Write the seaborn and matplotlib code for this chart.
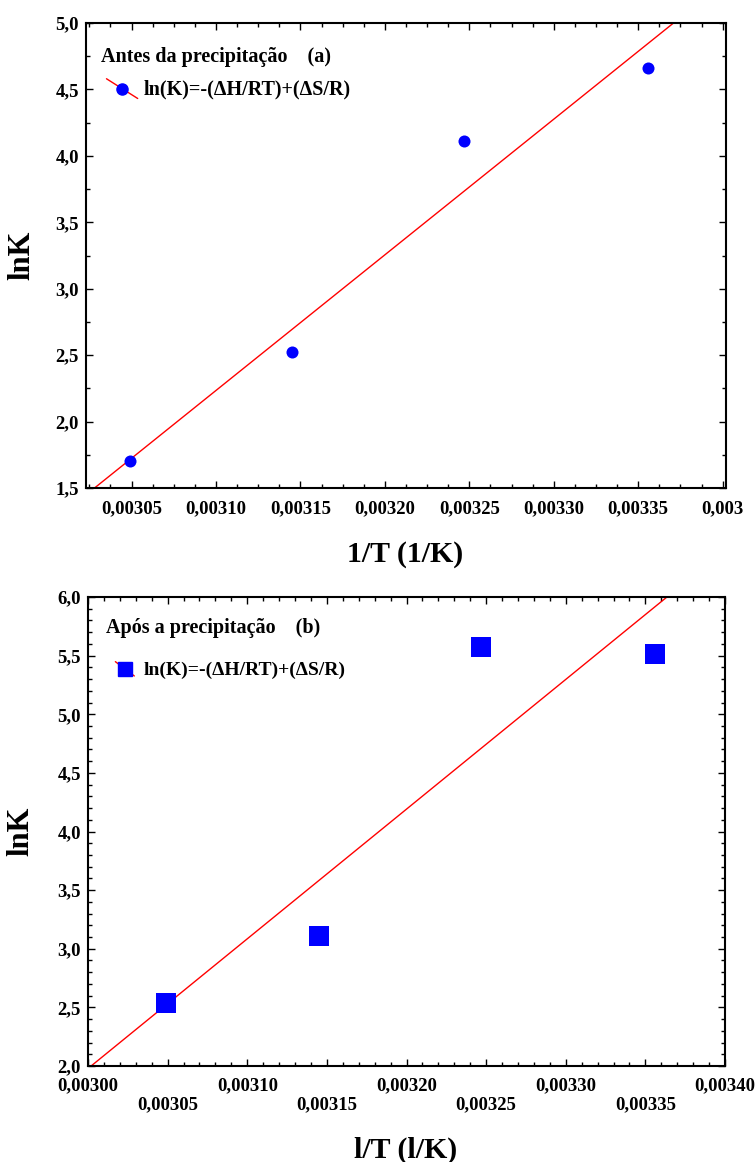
import numpy as np
import pandas as pd
import seaborn as sns
import matplotlib
matplotlib.use("Agg")
import matplotlib.pyplot as plt
from matplotlib.lines import Line2D
from matplotlib.legend_handler import HandlerBase
from matplotlib.ticker import FixedLocator, FixedFormatter, MultipleLocator

# ---- data -------------------------------------------------------------
inv_T = [0.003049, 0.003145, 0.003247, 0.003356]        # 1/T (1/K)
lnK_before = [1.70, 2.52, 4.11, 4.66]                    # (a) antes da precipitação
lnK_after = [2.54, 3.11, 5.57, 5.51]                     # (b) após a precipitação

a_xticks = [0.00305, 0.00310, 0.00315, 0.00320, 0.00325, 0.00330, 0.00335, 0.00340]
a_xticklabels = ["0,00305", "0,00310", "0,00315", "0,00320", "0,00325", "0,00330", "0,00335", "0,003"]
a_yticks = [1.5, 2.0, 2.5, 3.0, 3.5, 4.0, 4.5, 5.0]
a_yticklabels = ["1,5", "2,0", "2,5", "3,0", "3,5", "4,0", "4,5", "5,0"]

b_xticks = [0.00300, 0.00305, 0.00310, 0.00315, 0.00320, 0.00325, 0.00330, 0.00335, 0.00340]
b_xticklabels = ["0,00300", "\n0,00305", "0,00310", "\n0,00315", "0,00320", "\n0,00325",
                 "0,00330", "\n0,00335", "0,00340"]
b_yticks = [2.0, 2.5, 3.0, 3.5, 4.0, 4.5, 5.0, 5.5, 6.0]
b_yticklabels = ["2,0", "2,5", "3,0", "3,5", "4,0", "4,5", "5,0", "5,5", "6,0"]

eq_label = "ln(K)=-(\u0394H/RT)+(\u0394S/R)"

# ---- style ------------------------------------------------------------
sns.set_theme(style="ticks")
plt.rcParams["font.family"] = ["Liberation Serif", "DejaVu Serif"]
plt.rcParams["font.weight"] = "bold"
plt.rcParams["axes.labelweight"] = "bold"
plt.rcParams["text.color"] = "black"
plt.rcParams["axes.labelcolor"] = "black"
plt.rcParams["xtick.color"] = "black"
plt.rcParams["ytick.color"] = "black"


class DiagonalHandler(HandlerBase):
    """Legend key: red fit line drawn diagonally through the data marker."""

    def __init__(self, marker, ms, line_frac=1.0):
        super().__init__()
        self.marker = marker
        self.ms = ms
        self.line_frac = line_frac

    def create_artists(self, legend, orig_handle, xdescent, ydescent, width,
                       height, fontsize, trans):
        x0, x1 = -xdescent, -xdescent + width
        y0, y1 = -ydescent + height * 1.15, -ydescent - height * 0.25
        xm, ym = (x0 + x1) / 2, (y0 + y1) / 2
        f = self.line_frac
        line = Line2D([xm - (xm - x0) * f, xm + (x1 - xm) * f],
                      [ym + (y0 - ym) * f, ym - (ym - y1) * f],
                      color="red", lw=1.0, transform=trans)
        mk = Line2D([xm], [ym], marker=self.marker, ms=self.ms, color="blue",
                    mec="blue", ls="none", transform=trans)
        return [line, mk]


fig = plt.figure(figsize=(7.56, 11.62), dpi=100, facecolor="white")
ax_a = fig.add_axes([86 / 756, 1 - 488 / 1162, 640 / 756, 465 / 1162])
ax_b = fig.add_axes([88 / 756, 1 - 1066 / 1162, 637 / 756, 469 / 1162])

tick_fs = 13.5


def style_axes(ax):
    ax.set_facecolor("white")
    for s in ax.spines.values():
        s.set_visible(True)
        s.set_color("black")
        s.set_linewidth(1.5)
    ax.tick_params(which="both", direction="in", top=True, right=True,
                   color="black", width=1.0, labelsize=tick_fs,
                   labelcolor="black")
    ax.tick_params(which="major", length=5)
    ax.tick_params(which="minor", length=3)
    ax.grid(False)


# ---- (a) antes da precipitação ---------------------------------------
df_a = pd.DataFrame({"x": inv_T, "y": lnK_before})
ax_a.set_xlim(0.003023, 0.003402)
ax_a.set_ylim(1.5, 5.0)
sns.regplot(data=df_a, x="x", y="y", ax=ax_a, scatter=False, ci=None,
            truncate=False, line_kws=dict(color="red", lw=1.0))
sns.scatterplot(data=df_a, x="x", y="y", ax=ax_a, marker="o", s=75,
                color="blue", edgecolor="blue", linewidth=0, zorder=3)
ax_a.set_xlim(0.003023, 0.003402)
ax_a.set_ylim(1.5, 5.0)
style_axes(ax_a)
ax_a.xaxis.set_major_locator(FixedLocator(a_xticks))
ax_a.xaxis.set_major_formatter(FixedFormatter(a_xticklabels))
ax_a.xaxis.set_minor_locator(MultipleLocator(0.0000125))
ax_a.yaxis.set_major_locator(FixedLocator(a_yticks))
ax_a.yaxis.set_major_formatter(FixedFormatter(a_yticklabels))
ax_a.yaxis.set_minor_locator(MultipleLocator(0.25))
ax_a.tick_params(axis="x", pad=9)
ax_a.tick_params(axis="y", pad=5)
for t in ax_a.get_xticklabels() + ax_a.get_yticklabels():
    t.set_fontweight("bold")

ax_a.set_xlabel("1/T (1/K)", fontsize=21.5, fontweight="bold")
ax_a.set_ylabel("lnK", fontsize=22, fontweight="bold")
ax_a.xaxis.set_label_coords(0.498, -0.113)
ax_a.yaxis.set_label_coords(-0.078, 0.5)

ax_a.text(0.023, 0.927, "Antes da precipitação    (a)", transform=ax_a.transAxes,
          fontsize=14.5, fontweight="bold", ha="left", va="center")
h_a = Line2D([], [], color="red")
ax_a.legend([h_a], [eq_label], handler_map={Line2D: DiagonalHandler("o", 8.0)},
            loc="center left", bbox_to_anchor=(0.032, 0.856), frameon=False,
            handlelength=1.55, handletextpad=0.3, borderpad=0,
            borderaxespad=0, prop=dict(weight="bold", size=14.5))

# ---- (b) após a precipitação -----------------------------------------
df_b = pd.DataFrame({"x": inv_T, "y": lnK_after})
ax_b.set_xlim(0.00300, 0.00340)
ax_b.set_ylim(2.0, 6.0)
sns.regplot(data=df_b, x="x", y="y", ax=ax_b, scatter=False, ci=None,
            truncate=False, line_kws=dict(color="red", lw=1.0))
sns.scatterplot(data=df_b, x="x", y="y", ax=ax_b, marker="s", s=190,
                color="blue", edgecolor="blue", linewidth=0, zorder=3)
ax_b.set_xlim(0.00300, 0.00340)
ax_b.set_ylim(2.0, 6.0)
style_axes(ax_b)
ax_b.xaxis.set_major_locator(FixedLocator(b_xticks))
ax_b.xaxis.set_major_formatter(FixedFormatter(b_xticklabels))
ax_b.xaxis.set_minor_locator(MultipleLocator(0.00001))
ax_b.yaxis.set_major_locator(FixedLocator(b_yticks))
ax_b.yaxis.set_major_formatter(FixedFormatter(b_yticklabels))
ax_b.yaxis.set_minor_locator(MultipleLocator(0.1))
ax_b.tick_params(axis="x", pad=8)
ax_b.tick_params(axis="y", pad=5)
for t in ax_b.get_xticklabels() + ax_b.get_yticklabels():
    t.set_fontweight("bold")

ax_b.set_xlabel("l/T (l/K)", fontsize=21.5, fontweight="bold")
ax_b.set_ylabel("lnK", fontsize=22, fontweight="bold")
ax_b.xaxis.set_label_coords(0.498, -0.151)
ax_b.yaxis.set_label_coords(-0.082, 0.5)

ax_b.text(0.028, 0.934, "Após a precipitação    (b)", transform=ax_b.transAxes,
          fontsize=14.5, fontweight="bold", ha="left", va="center")
h_b = Line2D([], [], color="red")
ax_b.legend([h_b], [eq_label], handler_map={Line2D: DiagonalHandler("s", 10.0, 0.75)},
            loc="center left", bbox_to_anchor=(0.038, 0.844), frameon=False,
            handlelength=1.3, handletextpad=0.3, borderpad=0,
            borderaxespad=0, prop=dict(weight="bold", size=14))

fig.savefig("out.png", dpi=100, facecolor="white")
